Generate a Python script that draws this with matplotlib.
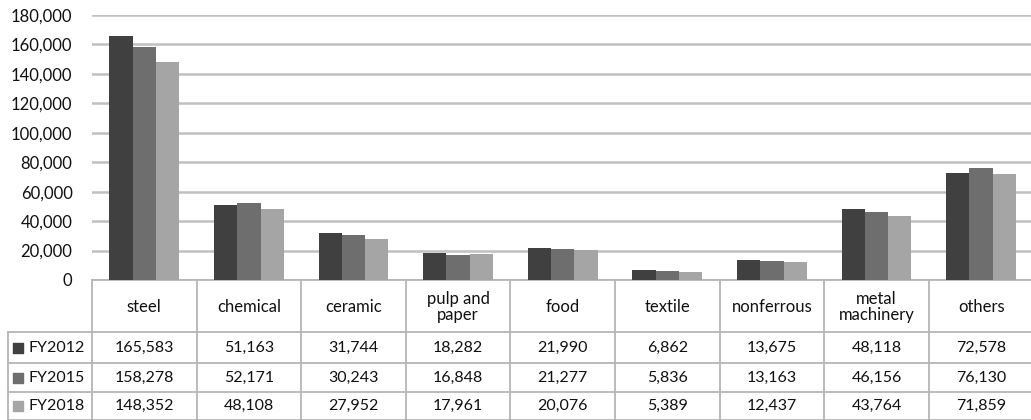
import matplotlib.pyplot as plt
import numpy as np

plt.rcParams['font.family'] = ['Lato', 'DejaVu Sans']

categories = ["steel", "chemical", "ceramic", "pulp and\npaper", "food",
              "textile", "nonferrous", "metal\nmachinery", "others"]
series = ["FY2012", "FY2015", "FY2018"]
fy2012 = [165583, 51163, 31744, 18282, 21990, 6862, 13675, 48118, 72578]
fy2015 = [158278, 52171, 30243, 16848, 21277, 5836, 13163, 46156, 76130]
fy2018 = [148352, 48108, 27952, 17961, 20076, 5389, 12437, 43764, 71859]
values = [fy2012, fy2015, fy2018]
colors = ["#404040", "#6e6e6e", "#a5a5a5"]

W, H = 1031, 420
fig = plt.figure(figsize=(W / 100, H / 100), dpi=100)

# pixel layout
px_left, px_top, px_zero = 92, 15, 280
cat_w = 104.6
px_right = W
x_max = -0.5 + (px_right - px_left) / cat_w

ax = fig.add_axes([px_left / W, 1 - px_zero / H,
                   (px_right - px_left) / W, (px_zero - px_top) / H])
x = np.arange(len(categories))
bw = 0.223
for i, (vals, c) in enumerate(zip(values, colors)):
    ax.bar(x + (i - 1) * bw, vals, bw, color=c, zorder=3)

ax.set_xlim(-0.5, x_max)
ax.set_ylim(0, 180000)
ax.set_yticks(np.arange(0, 180001, 20000))
ax.set_yticklabels([f"{v:,}" for v in range(0, 180001, 20000)], fontsize=12)
ax.tick_params(axis='y', length=0, pad=14, colors='#111111')
ax.set_xticks([])
ax.grid(axis='y', color='#c0c0c0', linewidth=1.8, zorder=0)
for s in ['top', 'right', 'left']:
    ax.spines[s].set_visible(False)
ax.spines['bottom'].set_color('#b5b5b5')
ax.spines['bottom'].set_linewidth(1.3)

# data table below
tab_left = 8
x_lab = -0.5 - (px_left - tab_left) / cat_w
tax = fig.add_axes([tab_left / W, 0, (px_right - tab_left) / W, (H - px_zero) / H])
tax.set_xlim(x_lab, x_max)
row_edges = [0, 52, 83, 112, 140]
tax.set_ylim(140, 0)
tax.axis('off')
lc = '#b5b5b5'
lw = 1.3

for k in range(len(categories) + 1):
    tax.plot([k - 0.5, k - 0.5], [0, 140], color=lc, lw=lw, clip_on=False)
tax.plot([x_lab, x_lab], [row_edges[1], 140], color=lc, lw=lw, clip_on=False)
for r in row_edges[1:]:
    tax.plot([x_lab, x_max], [r, r], color=lc, lw=lw, clip_on=False)

for k, cat in enumerate(categories):
    tax.text(k, (row_edges[0] + row_edges[1]) / 2 + 1, cat, ha='center', va='center',
             fontsize=12, color='#111111', linespacing=1.0)

for i, (name, vals, c) in enumerate(zip(series, values, colors)):
    yc = (row_edges[i + 1] + row_edges[i + 2]) / 2
    tax.scatter([x_lab + 0.1], [yc], marker='s', s=45, color=c, clip_on=False)
    tax.text(x_lab + 0.2, yc, name, ha='left', va='center', fontsize=11.5, color='#111111')
    for k, v in enumerate(vals):
        tax.text(k, yc, f"{v:,}", ha='center', va='center', fontsize=11.5, color='#111111')

fig.savefig("out.png", dpi=100)
